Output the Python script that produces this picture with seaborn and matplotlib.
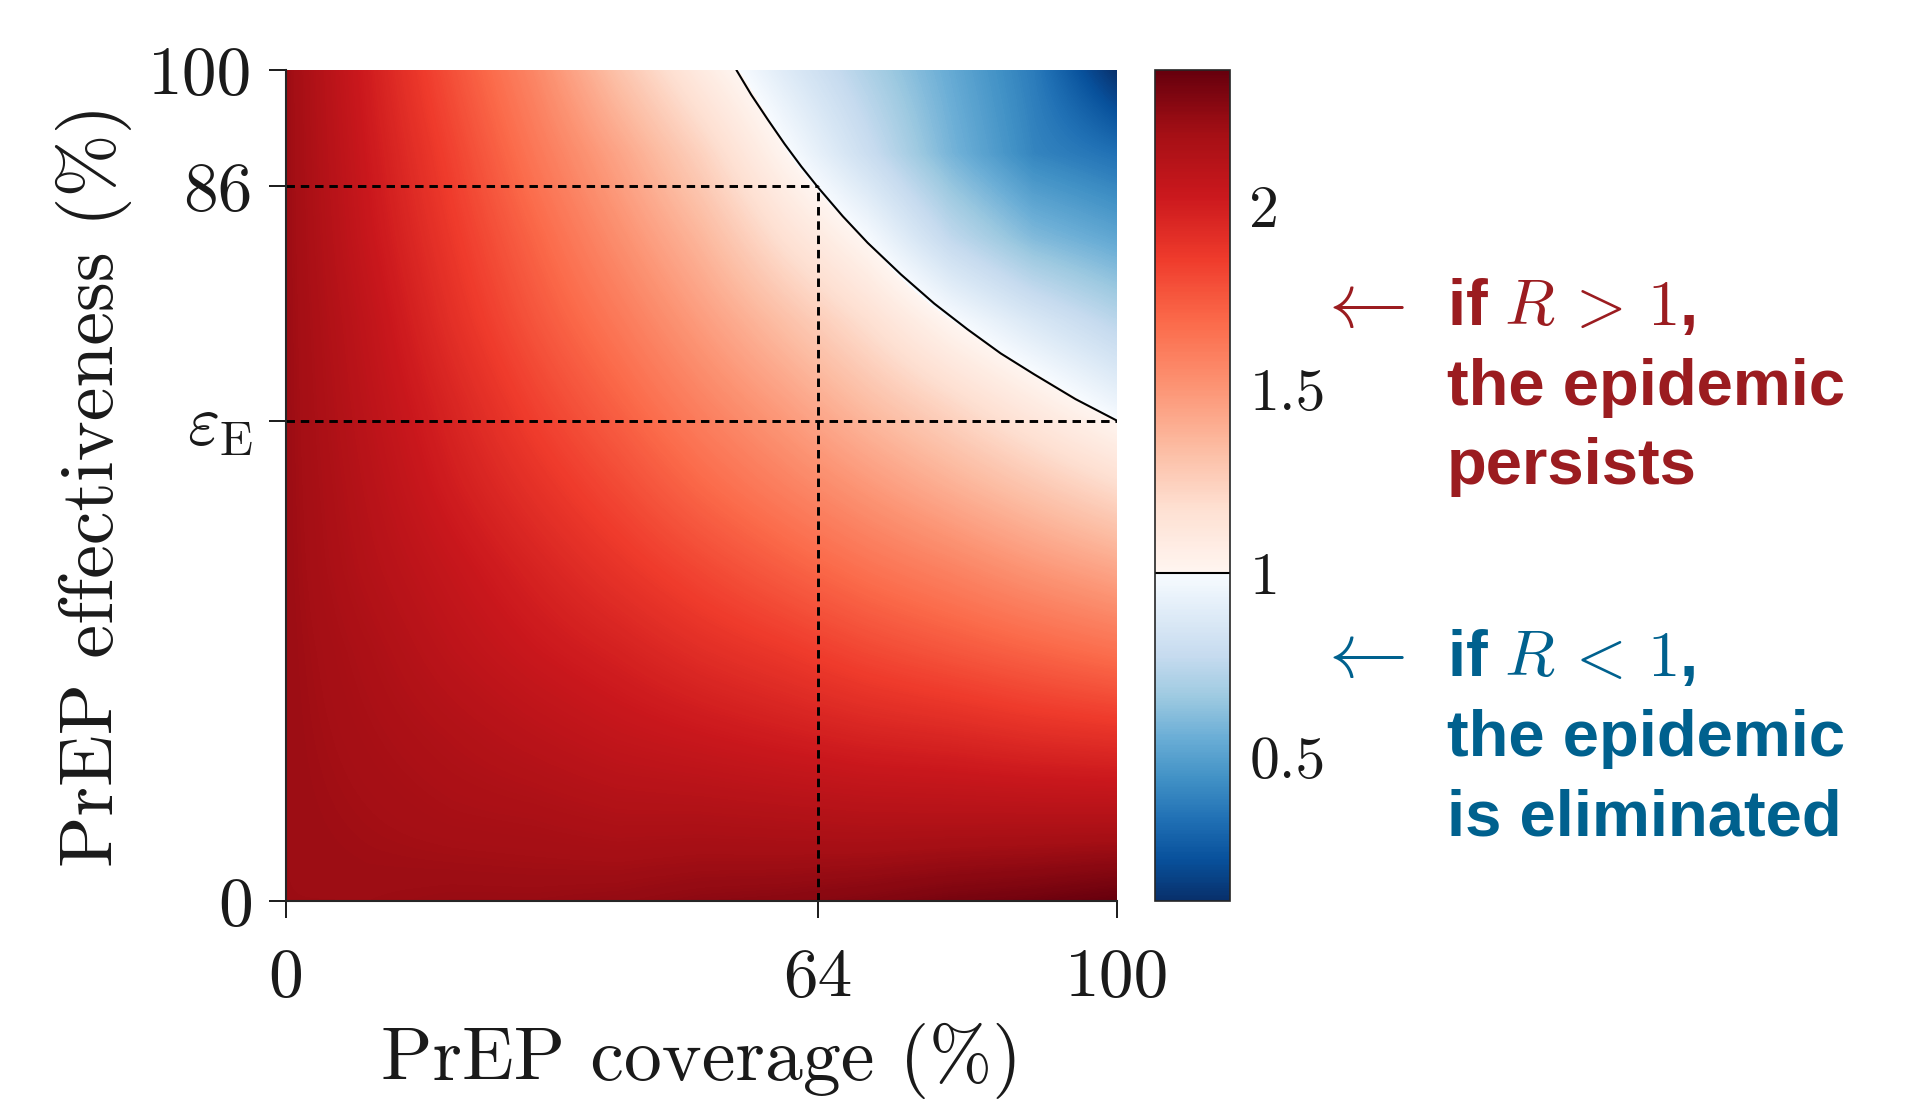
import numpy as np
import pandas as pd
import matplotlib
matplotlib.use('Agg')
import matplotlib.pyplot as plt
from matplotlib.colors import ListedColormap, Normalize
import seaborn as sns

sns.set_style('ticks')
plt.rcParams['font.family'] = ['cmr10', 'DejaVu Serif']
plt.rcParams['mathtext.fontset'] = 'cm'
plt.rcParams['axes.unicode_minus'] = False

# grid (percent)
coverage = [0, 10, 20, 30, 40, 50, 60, 70, 80, 90, 100]
effectiveness = [0, 10, 20, 30, 40, 50, 60, 70, 80, 90, 100]

# reproduction number R, one row per effectiveness level (0 -> 100 %)
r_number = [
    [2.22, 2.22, 2.23, 2.23, 2.24, 2.26, 2.27, 2.29, 2.32, 2.34, 2.37],
    [2.22, 2.20, 2.18, 2.17, 2.15, 2.15, 2.14, 2.13, 2.13, 2.13, 2.13],
    [2.22, 2.18, 2.14, 2.10, 2.06, 2.03, 2.00, 1.97, 1.95, 1.92, 1.90],
    [2.22, 2.16, 2.09, 2.03, 1.98, 1.92, 1.87, 1.81, 1.76, 1.71, 1.66],
    [2.22, 2.13, 2.05, 1.97, 1.89, 1.81, 1.73, 1.65, 1.58, 1.50, 1.43],
    [2.22, 2.11, 2.00, 1.90, 1.80, 1.69, 1.59, 1.49, 1.39, 1.29, 1.19],
    [2.22, 2.09, 1.96, 1.83, 1.71, 1.58, 1.46, 1.33, 1.21, 1.08, 0.95],
    [2.22, 2.07, 1.91, 1.76, 1.62, 1.47, 1.32, 1.17, 1.00, 0.86, 0.74],
    [2.22, 2.04, 1.87, 1.70, 1.53, 1.36, 1.16, 0.99, 0.76, 0.60, 0.52],
    [2.22, 2.02, 1.83, 1.63, 1.44, 1.24, 1.01, 0.80, 0.58, 0.40, 0.33],
    [2.22, 2.00, 1.78, 1.56, 1.31, 1.09, 0.89, 0.71, 0.54, 0.37, 0.11],
]

# R = 1 boundary
boundary_cov = [54.2, 56, 58, 60, 62, 64, 67, 70, 74, 78, 82, 86, 90, 95, 100]
boundary_eff = [100, 97.0, 94.0, 91.1, 88.4, 85.9, 82.4, 79.2, 75.4, 71.9, 68.8, 65.9, 63.4, 60.4, 57.8]

r_min, r_max = 0.107, 2.37
eps_e = 57.8
cov_star, eff_star = 64, 86

x_ticks = [0, cov_star, 100]
x_ticklabels = ['0', '64', '100']
y_ticks = [0, eps_e, eff_star, 100]
y_ticklabels = ['0', r'$\varepsilon_{\rm E}$', '86', '100']
cbar_ticks = [0.5, 1, 1.5, 2]
cbar_ticklabels = ['0.5', '1', '1.5', '2']

red = '#9b1c20'
blue = '#00618e'

# blues below R = 1, reds above, on a linear scale
split = (1 - r_min) / (r_max - r_min)
n_lo = int(round(512 * split))
cols = np.vstack([plt.cm.Blues_r(np.linspace(0, 1, n_lo)),
                  plt.cm.Reds(np.linspace(0, 1, 512 - n_lo))])
cmap = ListedColormap(cols)
norm = Normalize(r_min, r_max)

W, H = 1923, 1107
fig = plt.figure(figsize=(W / 100, H / 100), dpi=100)
ax = fig.add_axes([286 / W, 206 / H, 831 / W, 831 / H])

im = ax.imshow(np.array(r_number), origin='lower', extent=[-5, 105, -5, 105],
               cmap=cmap, norm=norm, interpolation='bilinear',
               interpolation_stage='data', aspect='auto')

sns.lineplot(x=boundary_cov, y=boundary_eff, estimator=None, sort=False,
             color='k', linewidth=1.5, ax=ax)

guides = pd.DataFrame({
    'seg': [0, 0, 1, 1, 2, 2],
    'x': [0, cov_star, cov_star, cov_star, 0, 100],
    'y': [eff_star, eff_star, 0, eff_star, eps_e, eps_e],
})
sns.lineplot(data=guides, x='x', y='y', units='seg', estimator=None, sort=False,
             color='k', linewidth=2.1, linestyle=(0, (2.9, 2.0)), legend=False, ax=ax)

ax.set_xlim(0, 100)
ax.set_ylim(0, 100)
ax.set_xticks(x_ticks)
ax.set_xticklabels(x_ticklabels)
ax.set_yticks(y_ticks)
ax.set_yticklabels(y_ticklabels)
ax.tick_params(direction='out', length=12, width=1.4, labelsize=50, colors='.1')
ax.tick_params(axis='x', pad=22)
ax.tick_params(axis='y', pad=12)
sns.despine(ax=ax)
for s in ['left', 'bottom']:
    ax.spines[s].set_linewidth(1.5)
    ax.spines[s].set_color('.15')

ax.set_xlabel('PrEP coverage (%)', fontsize=54.5, color='.1')
ax.set_ylabel('PrEP effectiveness (%)', fontsize=54.5, color='.1')
ax.xaxis.set_label_coords(0.5, -0.147)
ax.yaxis.set_label_coords(-0.185, 0.5)

cax = fig.add_axes([1155 / W, 206 / H, 75 / W, 831 / H])
cbar = fig.colorbar(im, cax=cax, ticks=cbar_ticks)
cbar.ax.set_yticklabels(cbar_ticklabels)
cbar.ax.tick_params(direction='in', length=11, width=1.2, labelsize=43, pad=14, colors='.1')
cbar.outline.set_linewidth(1.2)
cbar.ax.axhline(1, color='k', linewidth=1.5)

txt_kw = dict(family=['Liberation Sans', 'DejaVu Sans'], weight='bold',
              fontsize=47, ha='left', va='baseline')
fig.text(1315 / W, 1 - 327 / H, r'$\leftarrow$', color=red, fontsize=57,
         ha='left', va='baseline')
for line, yb in zip([r'if $R\,>\,1$,', 'the epidemic', 'persists'], [325, 405, 484]):
    fig.text(1447 / W, 1 - yb / H, line, color=red, **txt_kw)

fig.text(1315 / W, 1 - 677 / H, r'$\leftarrow$', color=blue, fontsize=57,
         ha='left', va='baseline')
for line, yb in zip([r'if $R\,<\,1$,', 'the epidemic', 'is eliminated'], [676, 756, 835]):
    fig.text(1447 / W, 1 - yb / H, line, color=blue, **txt_kw)

fig.savefig('out.png', dpi=100)
